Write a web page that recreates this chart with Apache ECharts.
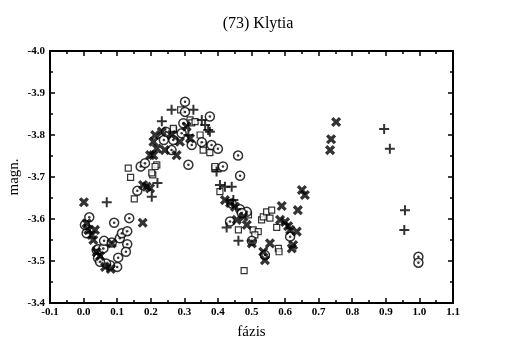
<!DOCTYPE html>
<html>
<head>
<meta charset="utf-8">
<script src="https://cdn.jsdelivr.net/npm/echarts@6/dist/echarts.min.js"></script>
<style>html,body{margin:0;padding:0;background:#fff}#c{width:505px;height:354px}</style>
</head>
<body>
<div id="c"></div>
<script>
const chartTitle = "(73) Klytia";
const xName = "fázis";
const yName = "magn.";
const xTicks = [-0.1,0.0,0.1,0.2,0.3,0.4,0.5,0.6,0.7,0.8,0.9,1.0,1.1];
const yTicks = [-4.0,-3.9,-3.8,-3.7,-3.6,-3.5,-3.4];

// [phase, magnitude]
const plusPts = [
[0.069,-3.640],[0.203,-3.653],[0.220,-3.686],[0.233,-3.833],[0.262,-3.860],[0.327,-3.860],
[0.352,-3.836],[0.362,-3.824],[0.371,-3.812],[0.312,-3.800],[0.376,-3.808],[0.396,-3.713],
[0.406,-3.681],[0.421,-3.677],[0.441,-3.677],[0.446,-3.645],[0.426,-3.580],[0.461,-3.548],
[0.957,-3.621],[0.955,-3.574],[0.895,-3.814],[0.912,-3.767]
];
const crossPts = [
[0.001,-3.640],[0.009,-3.590],[0.014,-3.574],[0.024,-3.562],[0.029,-3.550],[0.034,-3.574],
[0.039,-3.521],[0.049,-3.512],[0.064,-3.486],[0.081,-3.481],[0.084,-3.542],[0.176,-3.591],
[0.188,-3.677],[0.198,-3.673],[0.177,-3.681],[0.198,-3.752],[0.208,-3.752],[0.208,-3.784],
[0.213,-3.800],[0.218,-3.768],[0.233,-3.808],[0.242,-3.764],[0.262,-3.800],[0.277,-3.752],
[0.287,-3.784],[0.307,-3.820],[0.317,-3.792],[0.421,-3.645],[0.436,-3.638],[0.451,-3.629],
[0.456,-3.598],[0.476,-3.605],[0.486,-3.586],[0.501,-3.542],[0.535,-3.522],[0.540,-3.502],
[0.555,-3.542],[0.590,-3.631],[0.585,-3.598],[0.600,-3.593],[0.609,-3.583],[0.615,-3.574],
[0.638,-3.621],[0.635,-3.570],[0.620,-3.530],[0.624,-3.538],[0.650,-3.669],[0.659,-3.657],
[0.752,-3.831],[0.737,-3.790],[0.734,-3.764]
];
const circlePts = [
[0.017,-3.604],[0.009,-3.566],[0.004,-3.586],[0.039,-3.526],[0.043,-3.507],[0.044,-3.528],
[0.059,-3.530],[0.061,-3.548],[0.084,-3.544],[0.091,-3.591],[0.108,-3.554],[0.114,-3.566],
[0.130,-3.571],[0.130,-3.540],[0.126,-3.522],[0.136,-3.602],[0.103,-3.508],[0.100,-3.486],
[0.079,-3.490],[0.067,-3.494],[0.049,-3.498],[0.160,-3.667],[0.170,-3.725],[0.183,-3.733],
[0.239,-3.788],[0.245,-3.808],[0.267,-3.788],[0.262,-3.764],[0.292,-3.804],[0.297,-3.828],
[0.302,-3.855],[0.302,-3.879],[0.322,-3.776],[0.312,-3.729],[0.376,-3.844],[0.381,-3.776],
[0.352,-3.783],[0.400,-3.767],[0.460,-3.751],[0.415,-3.725],[0.466,-3.703],[0.441,-3.637],
[0.466,-3.623],[0.486,-3.617],[0.471,-3.614],[0.436,-3.594],[0.501,-3.548],[0.540,-3.514],
[0.615,-3.558],[0.997,-3.510],[0.997,-3.496]
];
const squarePts = [
[0.133,-3.721],[0.140,-3.699],[0.151,-3.648],[0.206,-3.705],[0.218,-3.729],[0.203,-3.710],
[0.213,-3.725],[0.268,-3.812],[0.267,-3.816],[0.289,-3.860],[0.317,-3.836],[0.322,-3.829],
[0.332,-3.832],[0.347,-3.800],[0.357,-3.776],[0.356,-3.764],[0.376,-3.758],[0.391,-3.721],
[0.391,-3.725],[0.406,-3.665],[0.491,-3.610],[0.461,-3.574],[0.505,-3.574],[0.520,-3.570],
[0.510,-3.562],[0.530,-3.598],[0.535,-3.605],[0.545,-3.617],[0.560,-3.621],[0.555,-3.602],
[0.575,-3.580],[0.580,-3.530],[0.582,-3.522],[0.478,-3.477]
];

const FONT = "'Liberation Serif','DejaVu Serif',serif";
const plusPath = 'path://M4,0h2v4h4v2h-4v4h-2v-4h-4v-2h4z';
const crossPath = 'path://M3.5,0h3v3.5h3.5v3h-3.5v3.5h-3v-3.5h-3.5v-3h3.5z';

const lbl = {fontFamily: FONT, fontWeight: 'bold', fontSize: 11, color: '#000'};
function xAx(pos, show) {
  return {
    type: 'value', position: pos, min: xTicks[0], max: xTicks[xTicks.length-1], interval: 0.1,
    axisLine: {show: true, onZero: false, lineStyle: {color: '#000', width: 2}},
    axisTick: {show: true, inside: true, length: 5, lineStyle: {color: '#000', width: 1.5}},
    minorTick: {show: true, splitNumber: 2, length: 3, lineStyle: {color: '#000', width: 1.5}},
    splitLine: {show: false},
    axisLabel: Object.assign({show: show, margin: 4, formatter: v => v.toFixed(1)}, lbl),
    name: show ? xName : '', nameLocation: 'middle', nameGap: 22, nameMoveOverlap: false,
    nameTextStyle: {fontFamily: FONT, fontSize: 15, color: '#000'}
  };
}
function yAx(pos, show) {
  return {
    type: 'value', position: pos, inverse: true, min: yTicks[0], max: yTicks[yTicks.length-1], interval: 0.1,
    axisLine: {show: true, onZero: false, lineStyle: {color: '#000', width: 2}},
    axisTick: {show: true, inside: true, length: 5, lineStyle: {color: '#000', width: 1.5}},
    minorTick: {show: true, splitNumber: 2, length: 3, lineStyle: {color: '#000', width: 1.5}},
    splitLine: {show: false},
    axisLabel: Object.assign({show: show, margin: 5, formatter: v => v.toFixed(1)}, lbl),
    name: show ? yName : '', nameLocation: 'middle', nameGap: 28, nameRotate: 90, nameMoveOverlap: false,
    nameTextStyle: {fontFamily: FONT, fontSize: 15, color: '#000'}
  };
}

const chart = echarts.init(document.getElementById('c'), null, {renderer: 'canvas'});
chart.setOption({
  animation: false,
  backgroundColor: '#fff',
  title: {text: chartTitle, left: 253, top: 11, textAlign: 'center',
    textStyle: {fontFamily: FONT, fontWeight: 'normal', fontSize: 16, color: '#000'}},
  grid: {left: 50, right: 52, top: 51, bottom: 51, containLabel: false, outerBoundsMode: 'none'},
  xAxis: [xAx('bottom', true), xAx('top', false)],
  yAxis: [yAx('left', true), yAx('right', false)],
  series: [
    {type: 'scatter', data: squarePts, symbol: 'rect', symbolSize: 6,
     itemStyle: {color: '#fff', borderColor: '#000', borderWidth: 1.2}},
    {type: 'scatter', data: circlePts, symbol: 'circle', symbolSize: 9,
     itemStyle: {color: '#fff', borderColor: '#000', borderWidth: 1.5}},
    {type: 'scatter', data: circlePts, symbol: 'circle', symbolSize: 2.5,
     itemStyle: {color: '#000'}},
    {type: 'scatter', data: crossPts, symbol: crossPath, symbolSize: 11, symbolRotate: 45,
     itemStyle: {color: '#000'}},
    {type: 'scatter', data: plusPts, symbol: plusPath, symbolSize: 10,
     itemStyle: {color: '#000'}}
  ]
});
</script>
</body>
</html>
